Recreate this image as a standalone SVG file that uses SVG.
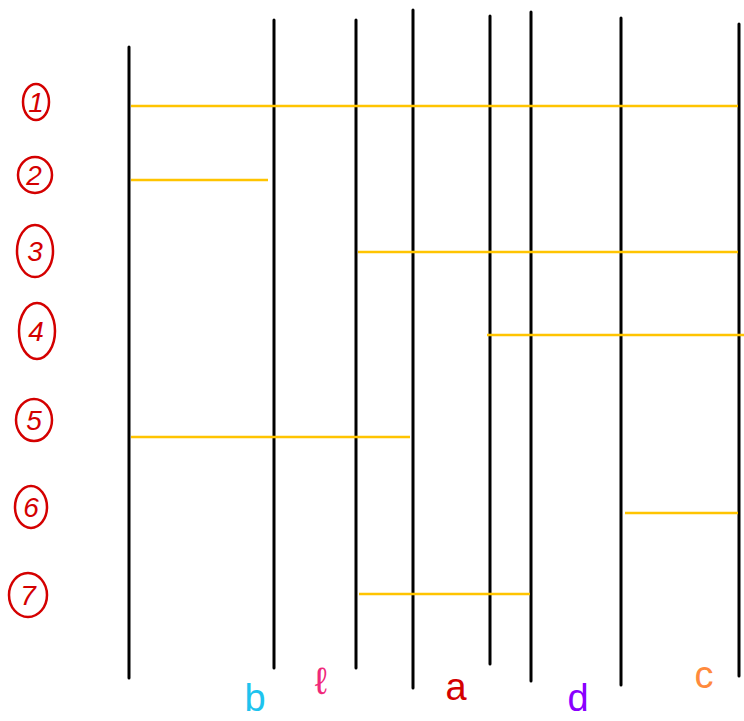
<svg xmlns="http://www.w3.org/2000/svg" width="744" height="721" viewBox="0 0 744 721">
<style>
.v{stroke:#000;stroke-width:3;stroke-linecap:round}
.y{stroke:#FFC400;stroke-width:2.5}
.c{fill:none;stroke:#D40000;stroke-width:2.5}
.n{font-family:"Liberation Sans",Arial,sans-serif;font-size:28px;fill:#D40000;text-anchor:middle;font-style:italic}
.l{font-family:"Liberation Sans",Arial,sans-serif;font-size:38px;text-anchor:middle}
</style>
<rect width="744" height="721" fill="#fff"/>
<g id="verticals">
<line class="v" x1="129" y1="47" x2="129" y2="678"/>
<line class="v" x1="274" y1="20" x2="274" y2="668"/>
<line class="v" x1="356" y1="20" x2="356" y2="668"/>
<line class="v" x1="413" y1="10" x2="413" y2="688"/>
<line class="v" x1="490" y1="16" x2="490" y2="664"/>
<line class="v" x1="531" y1="12" x2="531" y2="681"/>
<line class="v" x1="621" y1="18" x2="621" y2="685"/>
<line class="v" x1="739" y1="24" x2="739" y2="676"/>
</g>
<g id="connectors">
<line class="y" x1="131" y1="106" x2="738" y2="106"/>
<line class="y" x1="131" y1="180" x2="268" y2="180"/>
<line class="y" x1="358" y1="252" x2="738" y2="252"/>
<line class="y" x1="487" y1="335" x2="744" y2="335"/>
<line class="y" x1="131" y1="437" x2="410" y2="437"/>
<line class="y" x1="625" y1="513" x2="738" y2="513"/>
<line class="y" x1="359" y1="594" x2="530" y2="594"/>
</g>
<g id="n1"><ellipse class="c" cx="36" cy="102" rx="13" ry="18"/><text class="n" x="36" y="112">1</text></g>
<g id="n2"><ellipse class="c" cx="35" cy="175" rx="17" ry="18"/><text class="n" x="34" y="185">2</text></g>
<g id="n3"><ellipse class="c" cx="35" cy="251" rx="18" ry="26"/><text class="n" x="35" y="261">3</text></g>
<g id="n4"><ellipse class="c" cx="37" cy="331" rx="18" ry="28"/><text class="n" x="36" y="341">4</text></g>
<g id="n5"><ellipse class="c" cx="34" cy="420" rx="18" ry="21"/><text class="n" x="34" y="430">5</text></g>
<g id="n6"><ellipse class="c" cx="31" cy="507" rx="16" ry="21"/><text class="n" x="31" y="517">6</text></g>
<g id="n7"><ellipse class="c" cx="28" cy="595" rx="19" ry="22"/><text class="n" x="28" y="605">7</text></g>
<g id="labels">
<text class="l" x="255" y="711" fill="#1EC3EE">b</text>
<text class="l" x="321" y="694" fill="#F0287A">ℓ</text>
<text class="l" x="456" y="700" fill="#D40000">a</text>
<text class="l" x="578" y="711" fill="#8A00FF">d</text>
<text class="l" x="704" y="688" fill="#FF8A3D">c</text>
</g>
</svg>
